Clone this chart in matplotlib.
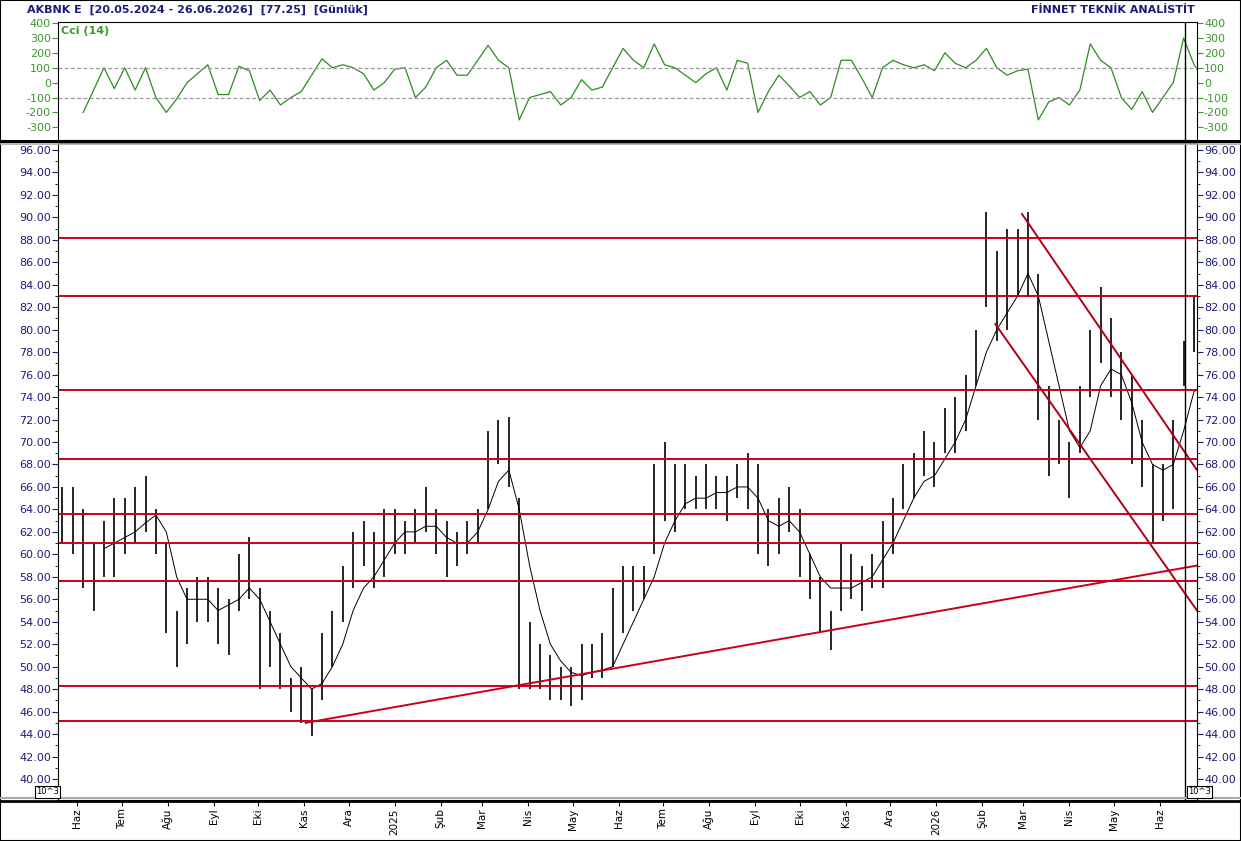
import matplotlib
matplotlib.use("Agg")
import matplotlib.pyplot as plt
import matplotlib.dates as mdates
from matplotlib.lines import Line2D
import numpy as np
import datetime as dt

plt.rcParams['axes.unicode_minus'] = False

start = dt.date(2024, 5, 20)
end = dt.date(2026, 6, 26)

highs = [66,66,64,61,63,65,65,66,67,64,61,55,57,58,58,57,56,60,61.5,57,55,53,49,50,48,53,55,59,62,63,
         62,64,64,63,64,66,64,63,62,63,64,71,72,72.2,65,54,52,51,50,50,52,52,53,57,59,59,59,68,70,68,
         68,67,68,67,67,68,69,68,64,65,66,64,60,58,55,61,60,59,60,63,65,68,69,71,70,73,74,76,80,90.5,
         87,89,89,90.5,85,75,72,70,75,80,83.8,81,78,76,72,68,68,72,79,83,79]
lows = [61,60,57,55,58,58,60,61,62,60,53,50,52,54,54,52,51,55,56,48,50,48,46,45,43.8,47,50,54,57,59,
        57,58,60,60,61,62,60,58,59,60,61,64,68,66,48,48,48,47,47,46.5,47,49,49,50,53,55,56,60,63,62,
        64,64,64,64,63,65,64,60,59,60,62,58,56,53,51.5,55,56,55,57,57,60,64,65,67,66,69,69,71,75,82,
        79,80,83,83,72,67,68,65,69,74,77,74,72,68,66,61,63,64,75,78,76]
ma = [np.nan]*4 + [60.5,61,61.5,62,62.8,63.5,62,58,56,56,56,55,55.5,56,57,56,54,52,50,49,48,48.5,50,52,55,57,
      58,59.5,61,62,62,62.5,62.5,61.5,61,61,62,64,66.5,67.5,64,59,55,52,50.5,49.5,49.2,49.5,49.7,50,52,54,56,58,61,63,
      64.5,65,65,65.5,65.5,66,66,65,63,62.5,63,62,60,58,57,57,57,57.5,58,59.5,61,63,65,66.5,67,68.5,70,72,75,78,
      80,81.5,83,85,83,79,75,71,69.5,71,75,76.5,76,73.5,70,68,67.5,68,71,74.5,75]
cci = [np.nan,np.nan,-200,-50,100,-40,100,-50,100,-100,-200,-110,0,60,120,-80,-80,110,80,-120,-50,-150,-100,-60,50,160,100,120,100,60,
       -50,0,90,100,-100,-30,100,150,50,50,150,250,150,100,-250,-100,-80,-60,-150,-100,20,-50,-30,100,230,150,100,260,120,100,
       50,0,60,100,-50,150,130,-200,-60,50,-20,-100,-60,-150,-100,150,150,30,-100,100,150,120,100,120,80,200,130,100,150,230,
       100,50,80,90,-250,-130,-100,-150,-50,260,150,100,-100,-180,-60,-200,-100,0,300,120,20]

levels = [88.2, 83.0, 74.6, 68.5, 63.6, 61.0, 57.6, 48.3, 45.2]
trend_dates = [dt.date(2024, 11, 2), dt.date(2026, 6, 26)]
trend_vals = [45.0, 59.0]
chan_up_dates = [dt.date(2026, 2, 28), dt.date(2026, 6, 26)]
chan_up_vals = [90.3, 67.5]
chan_lo_dates = [dt.date(2026, 2, 10), dt.date(2026, 6, 26)]
chan_lo_vals = [80.5, 55.0]
month_labels = ["Haz","Tem","Ağu","Eyl","Eki","Kas","Ara","2025","Şub","Mar","Nis","May",
                "Haz","Tem","Ağu","Eyl","Eki","Kas","Ara","2026","Şub","Mar","Nis","May","Haz"]

n = len(highs)
dates = [start + dt.timedelta(days=7*i + 2) for i in range(n)]
month_dates = [dt.date(2024 + (5 + k) // 12, (5 + k) % 12 + 1, 1) for k in range(len(month_labels))]

W, H = 1241, 841
fig = plt.figure(figsize=(W/100, H/100), dpi=100)
navy = "#1c1c7a"
green = "#3a9a2a"
red = "#c8001e"

def rect(l, r, t, b):
    return [l/W, 1 - b/H, (r-l)/W, (b-t)/H]

xl = [mdates.date2num(start) - 1, mdates.date2num(end)]

# CCI panel
ax1 = fig.add_axes(rect(58, 1197, 22, 140))
ax1.plot(dates, cci, color="#2e8b22", lw=0.9)
for v in (100, -100):
    ax1.axhline(v, color="#999999", ls=(0, (3, 2)), lw=0.9)
ax1.set_ylim(-385, 407)
ax1.set_xlim(xl)
ax1.set_yticks(range(-300, 401, 100))
ax1.set_xticks([])
ax1.tick_params(axis="y", labelsize=8, colors=green, length=4, right=True, labelright=True, pad=1)
ax1.text(0.003, 0.97, "Cci (14)", transform=ax1.transAxes, color=green, fontsize=8,
         fontweight="bold", va="top")
ax1.axvline(mdates.date2num(dt.date(2026, 6, 18)), color="black", lw=1)

# Price panel
ax = fig.add_axes(rect(58, 1197, 143, 800))
ax.vlines(dates, lows, highs, color="black", lw=1.2)
ax.plot(dates, ma, color="black", lw=0.7)
for lv in levels:
    ax.axhline(lv, color=red, lw=1.4)
ax.plot(trend_dates, trend_vals, color=red, lw=1.4)
ax.plot(chan_up_dates, chan_up_vals, color="#b00018", lw=1.4)
ax.plot(chan_lo_dates, chan_lo_vals, color="#b00018", lw=1.4)
ax.axvline(mdates.date2num(dt.date(2026, 6, 18)), color="black", lw=1)
ax.set_ylim(38.13, 96.62)
ax.set_xlim(xl)
ax.set_yticks(np.arange(40, 97, 2))
ax.set_yticklabels([f"{v:.2f}" for v in np.arange(40, 97, 2)])
ax.tick_params(axis="y", labelsize=8, colors=navy, length=4, right=True, labelright=True, pad=1)
ax.set_xticks([mdates.date2num(d) for d in month_dates])
ax.set_xticklabels(month_labels, rotation=90, fontsize=7.5)
ax.tick_params(axis="x", length=4, pad=2)
ax.yaxis.set_minor_locator(matplotlib.ticker.MultipleLocator(1))
ax.tick_params(axis="y", which="minor", length=2, right=True)

# separators and frame
for y, c, lw in [(141, "black", 2.2), (143.5, "#aaaaaa", 1.2), (798, "#aaaaaa", 1.5), (801, "black", 2)]:
    fig.add_artist(Line2D([0, 1], [1 - y/H, 1 - y/H], color=c, lw=lw))
fig.add_artist(plt.Rectangle((0, 0), 1, 1, fill=False, edgecolor="black", lw=1.5, transform=fig.transFigure))

fig.text(27/W, 1 - 10/H, "AKBNK E  [20.05.2024 - 26.06.2026]  [77.25]  [Günlük]", color=navy,
         fontsize=8, fontweight="bold", va="center")
fig.text(1195/W, 1 - 10/H, "FİNNET TEKNİK ANALİSTİT", color=navy, fontsize=8,
         fontweight="bold", va="center", ha="right")
for xx in (36, 1188):
    fig.text(xx/W, 1 - 792/H, "10^3", fontsize=6, va="center",
             bbox=dict(boxstyle="square,pad=0.15", fc="white", ec="black", lw=0.8))

fig.savefig("out.png", dpi=100)
